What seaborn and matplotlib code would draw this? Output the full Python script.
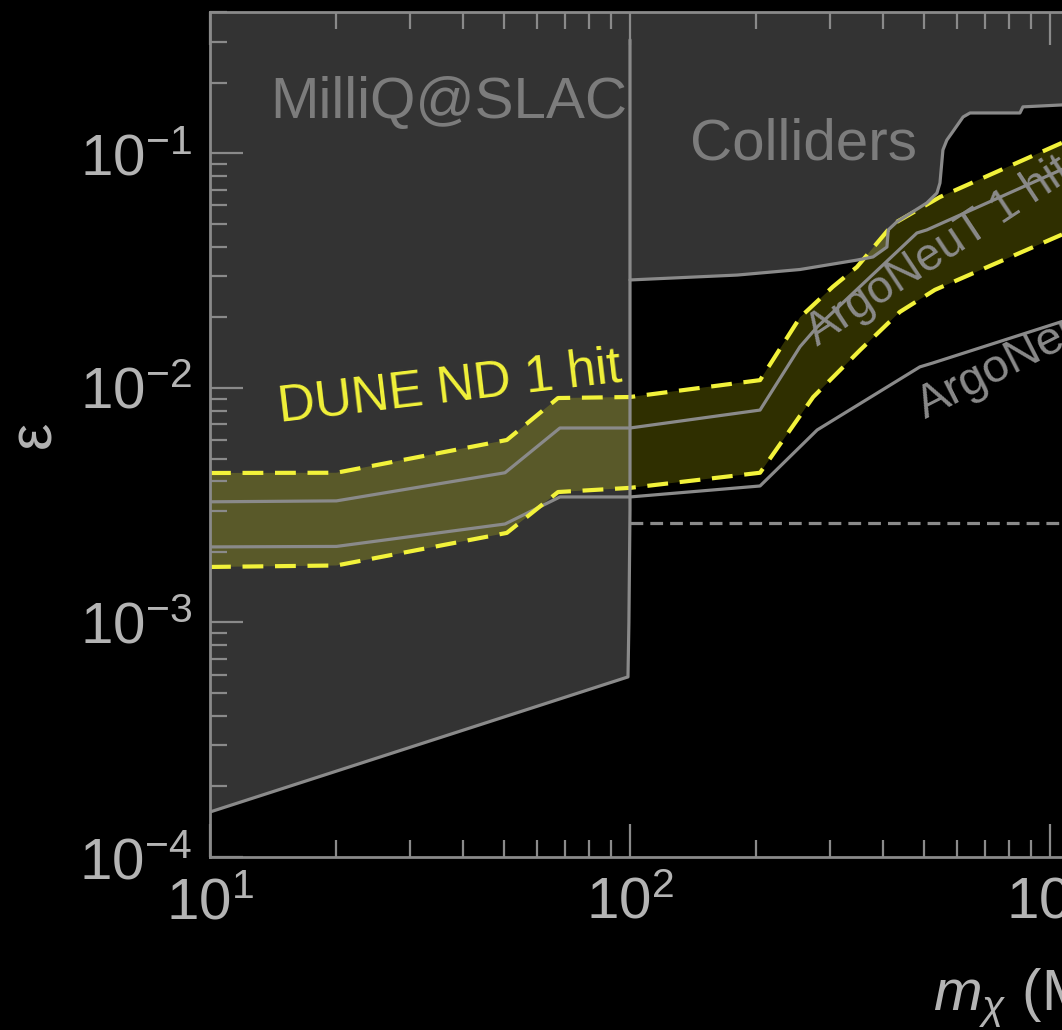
import numpy as np
import pandas as pd
import matplotlib
matplotlib.use("Agg")
import matplotlib.pyplot as plt
import seaborn as sns
from matplotlib.ticker import LogLocator, NullFormatter

# ---------------- data ----------------
milliq_x = [10, 98.9, 99.4, 100, 100]
milliq_y = [1.556e-4, 5.86e-4, 1.0e-3, 3.0e-3, 0.305]

colliders_x = [100, 101, 180, 254, 347, 379, 409, 412, 432, 509, 538, 547, 556,
               568, 584, 621, 645, 848, 862, 1068]
colliders_y = [0.0289, 0.0289, 0.0303, 0.032, 0.0351, 0.0362, 0.0399, 0.0472,
               0.0511, 0.0615, 0.0678, 0.0748, 0.1035, 0.114, 0.1223, 0.1431,
               0.1488, 0.1488, 0.158, 0.161]

dune_upper_x = [10, 20, 50.9, 67.4, 100, 204, 254, 304, 347, 423, 547, 1068]
dune_upper_y = [0.00434, 0.00435, 0.0060, 0.00906, 0.00915, 0.0108, 0.0200,
                0.027, 0.0328, 0.0500, 0.0652, 0.111]
dune_lower_x = [10, 20, 50.9, 67.4, 100, 204, 273, 353, 439, 532, 1068]
dune_lower_y = [0.001725, 0.00175, 0.00241, 0.0036, 0.00375, 0.00435, 0.00915,
                0.0145, 0.0211, 0.0262, 0.0451]

argo1_x = [10, 20, 50.4, 68.1, 100, 204, 254, 279, 482, 509, 1068]
argo1_y = [0.00327, 0.0033, 0.00435, 0.00675, 0.00675, 0.00805, 0.0150, 0.0182,
           0.0458, 0.0472, 0.0855]

argo_x = [10, 20, 50.4, 68.1, 100, 204, 279, 490, 526, 1068]
argo_y = [0.0021, 0.00211, 0.00263, 0.00343, 0.00343, 0.00382, 0.00662, 0.0123,
          0.01278, 0.0192]

dashed_x = [100, 1068]
dashed_y = [0.00266, 0.00266]

region_labels = ["MilliQ@SLAC", "Colliders"]
curve_labels = ["DUNE ND 1 hit", "ArgoNeuT 1 hit", "ArgoNeuT"]
x_label = r"$m_\chi$ (MeV)"
y_label = "ε"

# ---------------- style ----------------
sns.set_theme(style="ticks")
plt.rcParams["font.family"] = ["Liberation Sans", "DejaVu Sans"]
plt.rcParams["mathtext.fontset"] = "custom"
plt.rcParams["mathtext.rm"] = "Liberation Sans"
plt.rcParams["mathtext.it"] = "Liberation Sans:italic"
plt.rcParams["mathtext.bf"] = "Liberation Sans:bold"
plt.rcParams["axes.grid"] = False
plt.rcParams["axes.axisbelow"] = False

BG = "black"
FILL = "#333333"
LINE = "#8a8a8a"
TICKC = "#8a8a8a"
LABC = "#b4b4b4"
TXT = "#7c7c7c"
YEL = "#f2f23a"

fig = plt.figure(figsize=(10.62, 10.30), dpi=100, facecolor=BG)
ax = fig.add_axes([210 / 1062, (1030 - 857) / 1030, (1062 - 210) / 1062, 845 / 1030])
ax.set_facecolor(BG)
ax.set_axisbelow(False)
ax.set_xscale("log")
ax.set_yscale("log")
ax.set_xlim(10, 1068)
ax.set_ylim(1e-4, 0.401)

# excluded regions
ax.fill(milliq_x + [100, 10], milliq_y + [1, 1], color=FILL, lw=0, zorder=1)
ax.fill(colliders_x + [1068, 100], colliders_y + [1, 1], color=FILL, lw=0, zorder=1)

# DUNE band fill
ax.fill(dune_upper_x + dune_lower_x[::-1], dune_upper_y + dune_lower_y[::-1],
        color="#ffff00", alpha=0.19, lw=0, zorder=2)

lw_gray = 2.3
sns.lineplot(x=argo1_x, y=argo1_y, sort=False, estimator=None, ax=ax,
             color=LINE, lw=lw_gray, zorder=3)
sns.lineplot(x=argo_x, y=argo_y, sort=False, estimator=None, ax=ax,
             color=LINE, lw=lw_gray, zorder=3)
sns.lineplot(x=dashed_x, y=dashed_y, sort=False, estimator=None, ax=ax,
             color=LINE, lw=lw_gray, linestyle=(0, (4, 2.2)), zorder=3)
sns.lineplot(x=dune_upper_x, y=dune_upper_y, sort=False, estimator=None, ax=ax,
             color=YEL, lw=3.0, linestyle=(0, (5, 2.8)), zorder=4)
sns.lineplot(x=dune_lower_x, y=dune_lower_y, sort=False, estimator=None, ax=ax,
             color=YEL, lw=3.0, linestyle=(0, (5, 2.8)), zorder=4)
sns.lineplot(x=milliq_x, y=milliq_y, sort=False, estimator=None, ax=ax,
             color=LINE, lw=lw_gray, zorder=5)
sns.lineplot(x=colliders_x, y=colliders_y, sort=False, estimator=None, ax=ax,
             color=LINE, lw=lw_gray, zorder=5)

# text labels
ax.text(13.9, 0.1417, region_labels[0], fontsize=42, color=TXT,
        ha="left", va="baseline", zorder=6)
ax.text(139, 0.0938, region_labels[1], fontsize=42, color=TXT,
        ha="left", va="baseline", zorder=6)
ax.text(14.7, 0.00716, curve_labels[0], fontsize=37, color=YEL, rotation=6.75,
        rotation_mode="anchor", ha="left", va="baseline", zorder=6)
ax.text(280, 0.0150, curve_labels[1], fontsize=33, color=LINE, rotation=33.5,
        rotation_mode="anchor", ha="left", va="baseline", zorder=6)
ax.text(506, 0.00735, curve_labels[2], fontsize=34, color=LINE, rotation=27,
        rotation_mode="anchor", ha="left", va="baseline", zorder=6)

# axes styling
for side in ["left", "bottom", "top"]:
    ax.spines[side].set_color(TICKC)
    ax.spines[side].set_linewidth(2.0)
    ax.spines[side].set_zorder(7)
ax.spines["right"].set_visible(False)

ax.xaxis.set_major_locator(LogLocator(base=10, numticks=10))
ax.xaxis.set_minor_locator(LogLocator(base=10, subs=np.arange(2, 10), numticks=20))
ax.yaxis.set_major_locator(LogLocator(base=10, numticks=10))
ax.yaxis.set_minor_locator(LogLocator(base=10, subs=np.arange(2, 10), numticks=20))
ax.xaxis.set_minor_formatter(NullFormatter())
ax.yaxis.set_minor_formatter(NullFormatter())

ax.tick_params(which="both", direction="in", top=True, right=False, left=True,
               bottom=True, color=TICKC, labelcolor=LABC, width=1.6)
ax.tick_params(which="major", length=24, labelsize=42)
ax.tick_params(which="minor", length=12)
ax.tick_params(axis="x", which="major", pad=14)
ax.tick_params(axis="y", which="major", pad=13)

ax.set_xlabel(x_label, fontsize=42, color=LABC, ha="left", va="top")
ax.xaxis.set_label_coords((933 - 210) / 852, (857 - 966) / 845)
ax.set_ylabel(y_label, fontsize=44, color=LABC, va="center")
ax.yaxis.set_label_coords((35 - 210) / 852, 0.5)

fig.savefig("out.png", dpi=100, facecolor=BG)
